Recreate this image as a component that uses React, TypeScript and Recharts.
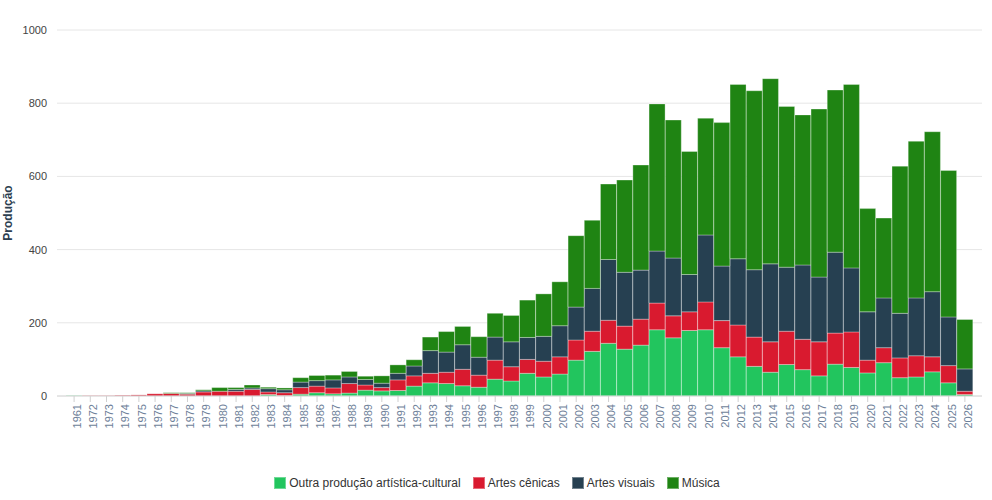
import React from 'react';
import { BarChart, Bar, XAxis, YAxis, CartesianGrid, Legend } from 'recharts';

const years = ['1961','1972','1973','1974','1975','1976','1977','1978','1979','1980','1981','1982','1983','1984','1985','1986','1987','1988','1989','1990','1991','1992','1993','1994','1995','1996','1997','1998','1999','2000','2001','2002','2003','2004','2005','2006','2007','2008','2009','2010','2011','2012','2013','2014','2015','2016','2017','2018','2019','2020','2021','2022','2023','2024','2025','2026'];

const outra = [1,0,0,0,0,0,0,0,0,0,0,0,4,1,5,9,6,8,16,14,15,27,36,34,28,24,46,41,62,52,60,98,122,144,128,139,181,159,179,181,132,107,81,65,86,72,55,87,78,63,91,50,52,66,36,4];
const cenicas = [0,1,1,2,3,6,7,5,11,13,13,18,7,8,18,18,16,26,14,9,29,28,26,31,45,33,52,39,38,43,47,55,55,63,63,71,73,60,51,76,74,87,80,83,91,83,93,85,97,35,41,54,58,41,47,9];
const visuais = [0,0,0,0,0,0,0,2,3,0,5,4,9,8,15,15,22,18,15,12,18,27,62,55,67,49,63,68,60,68,85,90,117,166,147,134,142,158,102,183,149,181,184,213,175,203,177,221,175,132,136,122,158,178,133,61];
const musica = [0,0,0,0,0,0,2,2,3,10,5,8,4,5,12,14,13,15,9,20,23,17,37,56,50,56,65,72,102,116,120,195,186,206,252,287,402,377,336,319,392,476,489,506,439,410,459,443,501,282,218,402,428,437,400,135];

const yTicks = [0, 200, 400, 600, 800, 1000];

const seriesNames = ['Outra produção artística-cultural', 'Artes cênicas', 'Artes visuais', 'Música'];
const seriesColors = ['#22c55e', '#d91a2f', '#264051', '#1f8413'];

const data = years.map((y, i) => ({
  year: y,
  outra: outra[i],
  cenicas: cenicas[i],
  visuais: visuais[i],
  musica: musica[i],
}));

const keys = ['outra', 'cenicas', 'visuais', 'musica'];
const font = 'Liberation Sans, Arial, Helvetica, sans-serif';

function LegendContent() {
  return (
    <div style={{ display: 'flex', justifyContent: 'center', alignItems: 'center', height: 16, paddingLeft: 12, fontFamily: font, fontSize: 12, color: '#333' }}>
      {seriesNames.map((n, i) => (
        <div key={n} style={{ display: 'flex', alignItems: 'center', marginRight: i < seriesNames.length - 1 ? 12 : 0 }}>
          <span style={{ display: 'inline-block', width: 12, height: 12, background: seriesColors[i], boxSizing: 'border-box', border: '1px solid rgba(255,255,255,0.35)', marginRight: 3 }} />
          <span>{n}</span>
        </div>
      ))}
    </div>
  );
}

export default function App() {
  return (
    <div style={{ position: 'absolute', left: 0, top: 0, width: 992, height: 500, background: '#fff', fontFamily: font }}>
      <BarChart
        width={992}
        height={500}
        data={data}
        margin={{ top: 30, right: 10, left: 0, bottom: 9 }}
        barCategoryGap={0}
        barGap={0}
      >
        <CartesianGrid vertical={false} stroke="#e6e6e6" />
        <XAxis
          dataKey="year"
          interval={0}
          height={79}
          padding={{ left: 9, right: 9 }}
          tick={{ fill: '#6e7f99', fontSize: 11, fontFamily: font }}
          angle={-90}
          textAnchor="end"
          dx={-1}
          tickLine={{ stroke: '#d0d0d0' }}
          axisLine={{ stroke: '#d8d8d8' }}
        />
        <YAxis
          width={57}
          domain={[0, 1000]}
          ticks={yTicks}
          axisLine={false}
          tickLine={false}
          tickMargin={4}
          tick={{ fill: '#444', fontSize: 11, fontFamily: font }}
          label={{
            value: 'Produção',
            angle: -90,
            position: 'insideLeft',
            offset: 8,
            style: { textAnchor: 'middle', fontWeight: 'bold', fontSize: 12, fill: '#2c3e50', fontFamily: font },
          }}
        />
        <Legend verticalAlign="bottom" align="center" height={16} content={<LegendContent />} />
        {keys.map((k, i) => (
          <Bar
            key={k}
            dataKey={k}
            name={seriesNames[i]}
            stackId="a"
            fill={seriesColors[i]}
            stroke="rgba(255,255,255,0.3)"
            strokeWidth={1}
            isAnimationActive={false}
          />
        ))}
      </BarChart>
    </div>
  );
}
